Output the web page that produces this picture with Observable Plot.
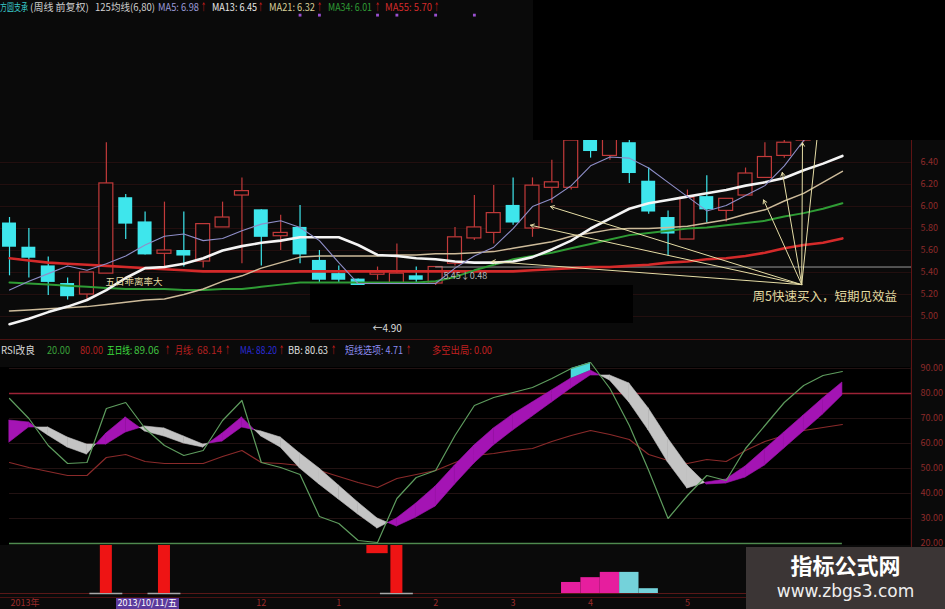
<!DOCTYPE html>
<html><head><meta charset="utf-8">
<script src="https://cdn.jsdelivr.net/npm/d3@7"></script>
<script src="https://cdn.jsdelivr.net/npm/@observablehq/plot@0.6"></script>
<style>
html,body{margin:0;padding:0;background:#0a0a0a;}
#root{position:relative;width:945px;height:609px;overflow:hidden;background:#0a0a0a;font-family:"Noto Sans CJK SC","Noto Sans",sans-serif;}
#root svg{position:absolute;left:0;overflow:visible;}
.t{position:absolute;font-size:10px;line-height:12px;white-space:nowrap;display:inline-block;}
.box{position:absolute;background:#000;}
</style></head><body><div id="root"></div>
<script>
// ---------- weekly candles (price) ----------
const opens  = [5.85,5.63,5.46,5.30,5.20,5.39,6.08,5.86,5.57,5.60,5.50,5.81,6.10,5.97,5.73,5.81,5.51,5.39,5.34,5.38,5.30,5.37,5.30,5.48,5.71,5.76,6.01,5.80,6.17,6.17,6.62,6.46,6.58,6.23,5.90,5.70,6.09,5.96,6.10,6.26,6.46,6.60,6.95,7.15];
const closes = [5.63,5.53,5.31,5.18,5.40,6.21,5.84,5.56,5.60,5.55,5.84,5.90,6.14,5.72,5.76,5.56,5.33,5.33,5.28,5.40,5.39,5.33,5.45,5.72,5.81,5.94,5.85,6.19,6.22,6.60,6.50,6.75,6.30,5.95,5.75,6.08,5.97,6.07,6.30,6.45,6.58,6.95,7.15,7.40];
const highs  = [5.90,5.80,5.54,5.35,5.40,6.58,6.11,5.95,6.04,5.95,5.84,6.04,6.26,5.97,5.92,6.01,5.60,5.46,5.34,5.45,5.66,5.45,5.45,5.81,6.10,6.19,6.26,6.26,6.42,6.75,6.80,6.85,6.70,6.35,5.96,6.15,6.28,6.07,6.35,6.58,6.72,7.05,7.30,7.55];
const lows   = [5.37,5.35,5.19,5.15,5.15,5.39,5.70,5.56,5.45,5.45,5.44,5.81,5.48,5.46,5.60,5.48,5.30,5.31,5.27,5.33,5.30,5.30,5.28,5.46,5.69,5.66,5.83,5.72,6.03,6.15,6.44,6.42,6.21,5.93,5.55,5.70,5.85,5.86,6.10,6.26,6.44,6.58,6.85,7.05];
// moving averages
const ma5  = [5.24,5.32,5.39,5.46,5.42,5.48,5.55,5.65,5.73,5.75,5.69,5.71,5.78,5.84,5.87,5.81,5.69,5.49,5.30,5.30,5.30,5.30,5.30,5.44,5.55,5.63,5.80,6.00,6.07,6.19,6.37,6.45,6.44,6.35,6.22,6.09,5.96,6.01,6.10,6.19,6.37,6.60,6.80,6.98];
const ma13 = [4.93,4.98,5.04,5.09,5.15,5.24,5.35,5.44,5.45,5.48,5.53,5.60,5.64,5.67,5.69,5.72,5.72,5.72,5.65,5.56,5.55,5.53,5.52,5.50,5.49,5.49,5.50,5.54,5.61,5.69,5.80,5.89,5.98,6.03,6.06,6.09,6.12,6.15,6.19,6.22,6.26,6.33,6.39,6.46];
const ma21 = [5.05,5.06,5.07,5.08,5.09,5.11,5.13,5.15,5.16,5.20,5.25,5.32,5.37,5.44,5.49,5.54,5.55,5.55,5.55,5.55,5.56,5.56,5.57,5.57,5.58,5.59,5.62,5.65,5.68,5.73,5.76,5.79,5.80,5.80,5.81,5.82,5.85,5.88,5.93,5.97,6.05,6.12,6.22,6.32];
const ma34 = [5.31,5.30,5.29,5.28,5.27,5.26,5.25,5.25,5.25,5.24,5.24,5.25,5.25,5.27,5.29,5.31,5.31,5.31,5.31,5.31,5.31,5.31,5.32,5.36,5.42,5.47,5.52,5.55,5.58,5.62,5.66,5.70,5.74,5.76,5.78,5.80,5.81,5.83,5.85,5.87,5.91,5.94,5.98,6.03];
const ma55 = [5.53,5.51,5.49,5.48,5.47,5.46,5.45,5.44,5.43,5.42,5.41,5.41,5.41,5.41,5.41,5.41,5.41,5.41,5.41,5.41,5.41,5.41,5.41,5.41,5.41,5.41,5.41,5.42,5.43,5.44,5.45,5.45,5.46,5.47,5.49,5.50,5.52,5.53,5.55,5.58,5.62,5.65,5.67,5.71];
const priceTicks = [5.0,5.2,5.4,5.6,5.8,6.0,6.2,6.4];
const markerIdx = [15,16,19,20,22,24];
const markerLevel = 7.74;
// annotations
const fanFrom = {i:40.9, p:5.29};
const fanToIdx   = [27.93,26.9,24.9,38.93,39.9,40.94,41.8];
const fanToPrice = [6.00,5.83,5.50,6.06,6.31,6.58,6.80];
const hLineIdx = 22, hLinePrice = 5.45;
const notes = [
  {i:4.96, p:5.318, t:"五日乖离率大", c:"#e2d9a0", s:9.5},
  {i:38.36, p:5.18, t:"周5快速买入，短期见效益", c:"#e2d9a0", s:12.5},
  {i:18.74, p:4.89, t:"←4.90", c:"#d8d8d8", s:10},
  {i:22.4, p:5.37, t:"5.45↓0.48", c:"#b8b8b8", s:9}
];
// ---------- RSI改良 panel ----------
const rsiA = [69.2,68.4,63.2,58.4,55.6,64.0,70.4,64.8,62.8,60.0,58.4,64.0,70.4,62.8,58.4,50.0,43.6,37.6,31.6,26.0,30.0,36.0,42.8,51.2,59.2,66.0,71.6,76.4,81.2,86.0,89.2,85.2,76.4,65.2,52.4,42.0,44.4,45.6,50.8,57.6,64.4,71.2,78.0,84.4];
const rsiB = [60.4,66.4,66.4,62.4,59.6,59.6,64.4,66.8,66.0,62.8,59.6,60.8,66.4,64.8,62.4,56.0,50.0,43.2,36.4,30.0,26.8,30.4,34.8,43.6,52.0,59.2,65.2,70.8,76.4,82.0,87.2,87.2,84.0,74.0,62.0,51.2,43.6,44.0,46.4,51.2,58.0,64.8,71.6,79.2];
const rsiGreen = [78.0,70.0,59.2,52.0,52.4,74.0,76.4,66.0,59.2,55.2,57.2,69.2,77.2,52.4,50.4,47.6,30.8,28.0,21.2,20.4,38.0,46.4,49.2,63.2,75.2,78.4,80.4,82.4,86.0,90.0,92.4,82.0,67.2,49.2,30.0,39.2,47.2,45.2,58.0,67.2,76.4,83.2,87.2,88.8];
const rsiRed = [52.4,50.4,48.8,47.2,47.2,54.4,55.6,52.8,52.0,52.0,52.0,54.8,57.2,52.4,52.0,51.2,49.2,46.8,44.4,42.4,46.0,47.6,49.2,52.4,55.2,56.0,57.2,58.0,60.8,63.2,65.2,63.6,61.6,55.6,53.2,52.0,53.6,52.8,57.2,60.8,63.2,65.2,66.4,67.6];
const cyanIdx = [29,30], cyanHi = [90.0,92.4];
const rsiTicks = [20,30,40,50,60,70,80,90];
// ---------- signal panel ----------
const redSigIdx = [5,8,20];
const hangIdx = [19], hangLow = [83];
const pinkIdx = [29,30,31], pinkVal = [23,33,44];
const cyanBarIdx = [32,33], cyanBarVal = [44,10];
const dateIdx = [0.8,13,17,22,26,30,35];
const dateText = ["2013年","12","1","2","3","4","5"];
const cursorIdx = 7, cursorText = "2013/10/11/五";

// ---------- build ----------
const W = 945, AXW = 33;
const xDomain = [-0.465, 46.62];
const idx = d3.range(opens.length);
const root = document.getElementById("root");
const FONT = '"Noto Sans CJK SC","Noto Sans",sans-serif';
const baseStyle = {background:"transparent", color:"#8e2a2a", fontSize:"9px", fontFamily:FONT, overflow:"visible"};

const candles = idx.map(i=>({i,o:opens[i],c:closes[i],h:highs[i],l:lows[i],up:closes[i]>=opens[i]}));
const up = candles.filter(d=>d.up), dn = candles.filter(d=>!d.up);
const RED="#c23a3a", CY="#3ee6ec";
const line = (arr,stroke,w)=>Plot.line(idx,{x:i=>i,y:i=>arr[i],stroke,strokeWidth:w,curve:"linear"});
const fan = fanToIdx.map((t,k)=>({x1:fanFrom.i,y1:fanFrom.p,x2:t,y2:fanToPrice[k]}));

const pricePlot = Plot.plot({
  width:W, height:340, marginLeft:0, marginRight:AXW, marginTop:0, marginBottom:0,
  style:baseStyle,
  x:{type:"linear", domain:xDomain, axis:null},
  y:{domain:[4.782,7.873], axis:"right", ticks:priceTicks, tickFormat:d=>d.toFixed(2), tickSize:0, tickPadding:8, label:null},
  marks:[
    Plot.ruleY(priceTicks,{stroke:"#241010"}),
    Plot.ruleX(dn,{x:"i",y1:"l",y2:"h",stroke:CY,strokeWidth:1.2}),
    Plot.rect(dn,{x1:d=>d.i-0.36,x2:d=>d.i+0.36,y1:"o",y2:"c",fill:CY}),
    Plot.ruleX(up,{x:"i",y1:"l",y2:d=>Math.min(d.o,d.c),stroke:RED,strokeWidth:1.2}),
    Plot.ruleX(up,{x:"i",y1:d=>Math.max(d.o,d.c),y2:"h",stroke:RED,strokeWidth:1.2}),
    Plot.rect(up,{x1:d=>d.i-0.36,x2:d=>d.i+0.36,y1:"o",y2:"c",fill:"#0a0a0a",stroke:RED,strokeWidth:1.2}),
    Plot.ruleY([hLinePrice],{x1:hLineIdx,x2:xDomain[1],stroke:"#9a9a9a",strokeWidth:1}),
    line(ma55,"#d42a2a",2.6),
    line(ma34,"#2f9c35",2),
    line(ma21,"#cdbb9a",1.5),
    line(ma13,"#f4f4f4",2.6),
    line(ma5,"#8e8ec8",1.1),
    Plot.arrow(fan,{x1:"x1",y1:"y1",x2:"x2",y2:"y2",stroke:"#e6dda6",strokeWidth:1,headLength:6}),
    Plot.dot(markerIdx,{x:i=>i,y:()=>markerLevel,symbol:"square",r:1.6,fill:"#9a50d0"}),
    ...notes.map(n=>Plot.text([n],{x:"i",y:"p",text:"t",fill:n.c,fontSize:n.s,textAnchor:"start",fontFamily:FONT}))
  ]
});
pricePlot.style.top="0px";
root.appendChild(pricePlot);

// ribbon segments (magenta when A above B, gray otherwise)
const MAG="#a414b4", GRAY="#c4c4c4";
const ribbon=[]; let seg=0;
for(let i=0;i<rsiA.length-1;i++){
  const d0=rsiA[i]-rsiB[i], d1=rsiA[i+1]-rsiB[i+1];
  if(d0*d1>=0){
    const f=(d0+d1)>=0?MAG:GRAY;
    ribbon.push({z:seg,i,a:rsiA[i],b:rsiB[i],f},{z:seg,i:i+1,a:rsiA[i+1],b:rsiB[i+1],f}); seg++;
  } else {
    const t=d0/(d0-d1), xc=i+t, yc=rsiA[i]+t*(rsiA[i+1]-rsiA[i]);
    const f0=d0>0?MAG:GRAY, f1=d1>0?MAG:GRAY;
    ribbon.push({z:seg,i,a:rsiA[i],b:rsiB[i],f:f0},{z:seg,i:xc,a:yc,b:yc,f:f0}); seg++;
    ribbon.push({z:seg,i:xc,a:yc,b:yc,f:f1},{z:seg,i:i+1,a:rsiA[i+1],b:rsiB[i+1],f:f1}); seg++;
  }
}
const cyanRows = cyanIdx.map((i,k)=>({i,lo:rsiA[i],hi:cyanHi[k]}));

const rsiPlot = Plot.plot({
  width:W, height:205, marginLeft:0, marginRight:AXW, marginTop:0, marginBottom:0,
  style:baseStyle,
  x:{type:"linear", domain:xDomain, axis:null},
  y:{domain:[19.2,101.2], axis:"right", ticks:rsiTicks, tickFormat:d=>d.toFixed(2), tickSize:0, tickPadding:8, label:null},
  marks:[
    Plot.ruleY([30,40,50,60,70,90],{x1:idx[0],x2:xDomain[1],stroke:"#221212"}),
    Plot.ruleY([80],{x1:idx[0],x2:xDomain[1],stroke:"#9c2236",strokeWidth:1.5}),
    Plot.ruleY([20],{x1:idx[0],x2:idx[idx.length-1],stroke:"#4f8a4f",strokeWidth:1.6}),
    line(rsiRed,"#8a2a2a",1.2),
    Plot.areaY(ribbon,{x:"i",y1:"a",y2:"b",z:"z",fill:"f",stroke:"f",strokeWidth:0.6}),
    Plot.areaY(cyanRows,{x:"i",y1:"lo",y2:"hi",fill:"#4ad8dc"}),
    line(rsiGreen,"#5e9c5e",1.2)
  ]
});
rsiPlot.style.top="340px";

// signal panel
const sigPlot = Plot.plot({
  width:W, height:64, marginLeft:0, marginRight:AXW, marginTop:0, marginBottom:12,
  style:baseStyle,
  x:{type:"linear", domain:xDomain, axis:null},
  y:{domain:[-8.33,100], axis:null},
  marks:[
    Plot.ruleY([0],{stroke:"#5a1818",strokeWidth:1.2}),
    Plot.ruleY(redSigIdx,{y:0,x1:i=>i-0.85,x2:i=>i+0.85,stroke:"#a8a8a8",strokeWidth:1.5}),
    Plot.rect(redSigIdx,{x1:i=>i-0.31,x2:i=>i+0.31,y1:0,y2:100,fill:"#ee1414"}),
    Plot.rect(hangIdx,{x1:i=>i-0.55,x2:i=>i+0.55,y1:(i,k)=>hangLow[k],y2:100,fill:"#ee1414"}),
    Plot.rect(pinkIdx,{x1:i=>i-0.5,x2:i=>i+0.5,y1:0,y2:(i,k)=>pinkVal[k],fill:"#e61e9e"}),
    Plot.rect(cyanBarIdx,{x1:i=>i-0.5,x2:i=>i+0.5,y1:0,y2:(i,k)=>cyanBarVal[k],fill:"#74d2da"}),
    Plot.axisX(dateIdx,{anchor:"bottom",tickSize:0,tickPadding:2,tickFormat:d=>dateText[dateIdx.indexOf(d)],fill:"#9a2a2a",fontSize:9})
  ]
});
sigPlot.style.top="545px";

// backgrounds behind RSI panel
const rsiBg=document.createElement("div");
rsiBg.className="box"; Object.assign(rsiBg.style,{left:"0px",top:"367px",width:"910px",height:"178px"});
root.appendChild(rsiBg);
root.appendChild(rsiPlot);
root.appendChild(sigPlot);

// cursor date label
const xs = pricePlot.scale("x");
const cx = xs.apply(cursorIdx);
const cur=document.createElement("div");
cur.className="t"; cur.textContent=cursorText;
Object.assign(cur.style,{left:(cx-29)+"px",top:"597px",background:"#5b3a9c",color:"#fff",fontSize:"9px",lineHeight:"12px",padding:"0 2px"});
root.appendChild(cur);

// frame lines
function div(st){const d=document.createElement("div");d.style.position="absolute";Object.assign(d.style,st);root.appendChild(d);return d;}
div({left:"0px",top:"339px",width:"945px",height:"1px",background:"#4a1212"});
div({left:"0px",top:"597px",width:"912px",height:"1px",background:"#4a1212"});
div({left:"911px",top:"140px",width:"1px",height:"469px",background:"#5e1414"});

// redaction boxes
div({left:"533px",top:"0px",width:"412px",height:"140px",background:"#000"});
div({left:"310px",top:"285px",width:"323px",height:"38px",background:"#000"});

// header texts, each squeezed horizontally to the width it has in the reference
function txt(x,y,s,c,w){
  const d=document.createElement("div");d.className="t";d.textContent=s;
  Object.assign(d.style,{left:x+"px",top:y+"px",color:c});root.appendChild(d);
  if(w){const bw=d.getBoundingClientRect().width; if(bw>w){d.style.transformOrigin="0 0";d.style.transform="scaleX("+(w/bw)+")";}}
}
const hy=1, AR="#e02020";
txt(0,hy,"方圆支承","#38c8c8",28);
txt(30,hy,"(周线 前复权)","#d0d0d0",62);
txt(95,hy,"125均线(6,80)","#d0d0d0",60);
txt(158,hy,"MA5: 6.98","#9a9ad8",41); txt(201,hy,"↑",AR,5);
txt(212,hy,"MA13: 6.45","#e8e8e8",45); txt(258,hy,"↑",AR,5);
txt(269,hy,"MA21: 6.32","#d8cf98",46); txt(317,hy,"↑",AR,5);
txt(328,hy,"MA34: 6.01","#2f9c35",44); txt(375,hy,"↑",AR,5);
txt(385,hy,"MA55: 5.70","#d42a2a",47); txt(434,hy,"↑",AR,5);
const ry=344;
txt(1,ry,"RSI改良","#d8d8d8",34);
txt(47,ry,"20.00","#3aa03a",23);
txt(80,ry,"80.00","#b02020",23);
txt(107,ry,"五日线:","#40e040",25); txt(134,ry,"89.06","#40c040",29); txt(165,ry,"↑",AR,5);
txt(175,ry,"月线:","#c02020",18); txt(197,ry,"68.14","#b02020",25); txt(225,ry,"↑",AR,5);
txt(240,ry,"MA: 88.20","#2a2ad8",37); txt(279,ry,"↑",AR,5);
txt(288,ry,"BB: 80.63","#e0e0e0",40); txt(331,ry,"↑",AR,5);
txt(345,ry,"短线选项: 4.71","#8c8cf0",58); txt(406,ry,"↑",AR,5);
txt(432,ry,"多空出局: 0.00","#c02020",60);

// watermark
const wm=div({left:"746px",top:"547px",width:"199px",height:"62px",background:"#3b3535"});
const w1=document.createElement("div");w1.textContent="指标公式网";
Object.assign(w1.style,{position:"absolute",left:"0",width:"199px",top:"3px",textAlign:"center",color:"#fff",fontSize:"22px",fontWeight:"bold",lineHeight:"28px",fontFamily:FONT});
const w2=document.createElement("div");w2.textContent="www.zbgs3.com";
Object.assign(w2.style,{position:"absolute",left:"0",width:"199px",top:"33px",textAlign:"center",color:"#eee",fontSize:"17px",lineHeight:"22px",fontFamily:'"DejaVu Sans",sans-serif'});
wm.appendChild(w1);wm.appendChild(w2);
</script></body></html>
